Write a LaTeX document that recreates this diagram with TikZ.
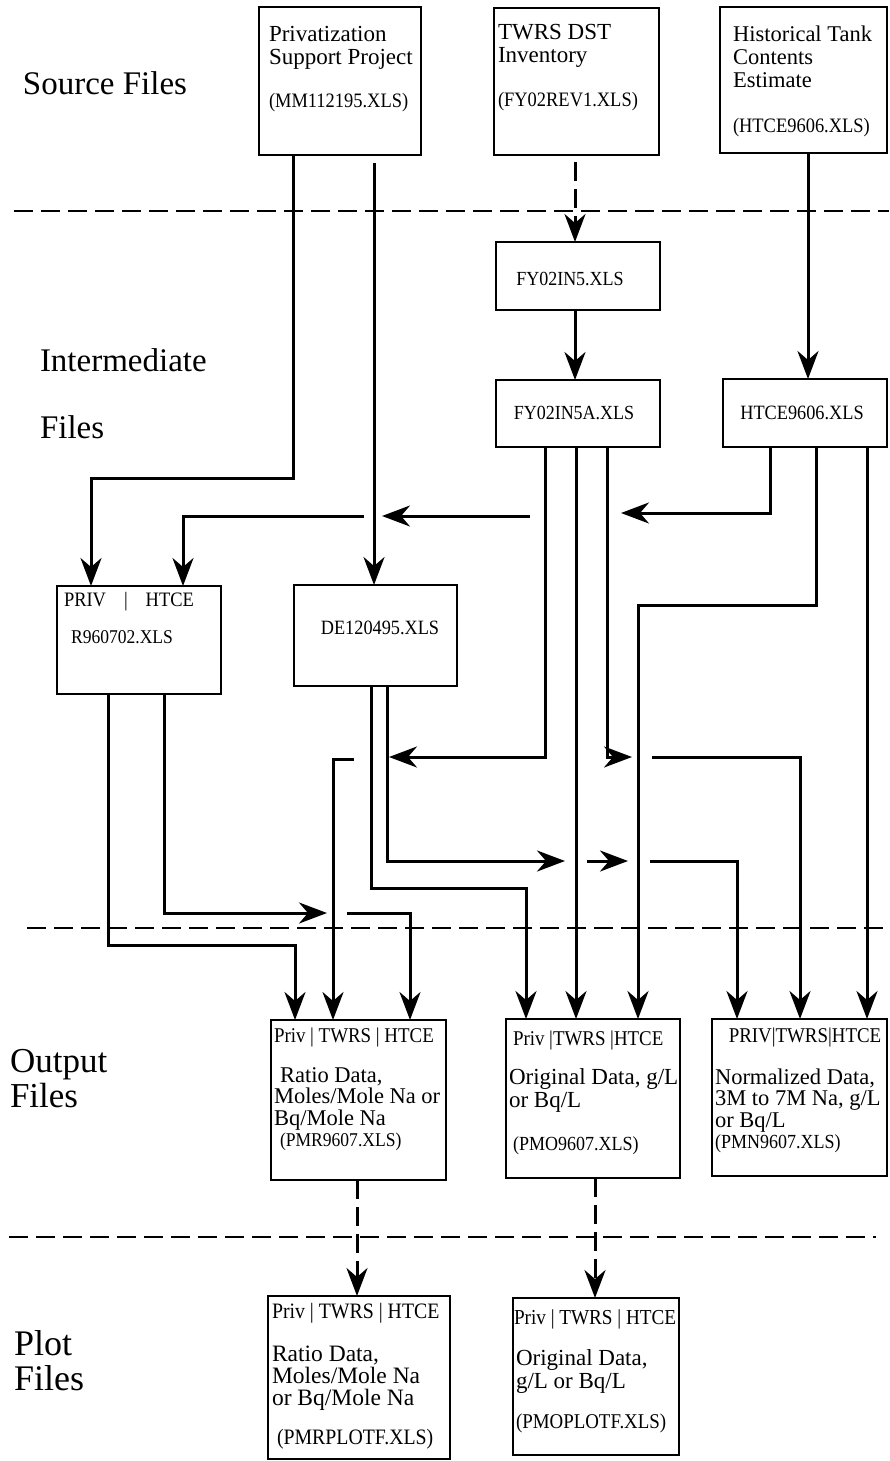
\documentclass[tikz,border=0pt]{standalone}
\usepackage{fontspec}
\setmainfont{Liberation Serif}
\newfontfamily\condfont[FakeStretch=0.9]{Liberation Serif}
\usetikzlibrary{arrows.meta}
\newcommand\FSz[1]{\fontsize{#1pt}{#1pt}\selectfont}
\newcommand\CSz[1]{\condfont\fontsize{#1pt}{#1pt}\selectfont}
\newcommand\TSz[2]{\fontsize{#1pt}{#2pt}\selectfont\lineskiplimit=-100pt\relax}
\newcommand\FirstLn{\rule{0pt}{20pt}}
\begin{document}
\begin{tikzpicture}[x=1pt,y=-1pt,
  box/.style={draw, line width=2pt, inner sep=0pt, outer sep=0pt, anchor=north west},
  conn/.style={line width=3pt, -{Stealth[length=28pt,width=21pt,inset=9pt]}},
  dconn/.style={conn, dash pattern=on 19pt off 8pt},
  sepline/.style={line width=2.4pt, dash pattern=on 19pt off 8pt},
  tl/.style={anchor=base west, inner sep=0pt, outer sep=0pt},
  tc/.style={anchor=center, inner sep=0pt, outer sep=0pt},
  blk/.style={anchor=north west, align=left, inner sep=0pt, outer sep=0pt},
]
\useasboundingbox (0,0) rectangle (889,1461);

% ---------- separators ----------
\draw[sepline] (14,211) -- (889,211);
\draw[sepline] (27,928) -- (889,928);
\draw[sepline] (9,1237) -- (876,1237);

% ---------- section labels ----------
\node[tl, font=\FSz{33}] (lblsrc) at (23,95) {Source Files};
\node[tl, font=\FSz{33}] (lblint) at (40,371) {Intermediate};
\node[tl, font=\FSz{33}] (lblintf) at (40,438) {Files};
\node[tl, font=\FSz{35}] (lblout) at (10,1072) {Output};
\node[tl, font=\FSz{35}] (lbloutf) at (10,1107) {Files};
\node[tl, font=\FSz{36}] (lblplot) at (14,1355) {Plot};
\node[tl, font=\FSz{36}] (lblplotf) at (14,1390) {Files};

% ---------- boxes ----------
\node[box, minimum width=162pt, minimum height=148pt] (src1) at (259,7) {};
\node[box, minimum width=165pt, minimum height=147pt] (src2) at (494,8) {};
\node[box, minimum width=167pt, minimum height=146pt] (src3) at (720,7) {};
\node[box, minimum width=164pt, minimum height=68pt] (fy5) at (496,242) {};
\node[box, minimum width=164pt, minimum height=67pt] (fy5a) at (496,380) {};
\node[box, minimum width=164pt, minimum height=68pt] (htce) at (723,379) {};
\node[box, minimum width=164pt, minimum height=108pt] (r96) at (57,586) {};
\node[box, minimum width=163pt, minimum height=101pt] (de12) at (294,585) {};
\node[box, minimum width=175pt, minimum height=160pt] (pmr) at (271,1020) {};
\node[box, minimum width=174pt, minimum height=159pt] (pmo) at (506,1019) {};
\node[box, minimum width=175pt, minimum height=157pt] (pmn) at (712,1019) {};
\node[box, minimum width=182pt, minimum height=163pt] (pmrp) at (268,1296) {};
\node[box, minimum width=166pt, minimum height=157pt] (pmop) at (513,1298) {};

% ---------- box texts ----------
\node[blk, font=\TSz{23}{23}] (src1t) at (269,22)
  {\FirstLn Privatization\\Support Project\\[20pt]{\CSz{20.5}(MM112195.XLS)}};
\node[blk, font=\TSz{23}{23}] (src2t) at (498,20)
  {\FirstLn TWRS DST\\Inventory\\[21pt]{\CSz{20.5}(FY02REV1.XLS)}};
\node[blk, font=\TSz{22.5}{22.5}] (src3t) at (733,22)
  {\FirstLn Historical Tank\\Contents\\Estimate\\[22.5pt]{\CSz{20.5}(HTCE9606.XLS)}};

\node[tc, font=\CSz{20}] (fy5t) at (570,279) {FY02IN5.XLS};
\node[tc, font=\CSz{20}] (fy5at) at (574,413) {FY02IN5A.XLS};
\node[tc, font=\CSz{20.3}] (htcet) at (802,413) {HTCE9606.XLS};
\node[tc, font=\CSz{20.3}] (de12t) at (380,628) {DE120495.XLS};
\node[tc, font=\CSz{19.5}] (r96t) at (122,637) {R960702.XLS};
\node[tl, font=\CSz{20.5}] (r96h) at (64,606) {PRIV\hspace{18pt}|\hspace{18pt}HTCE};

\node[tl, font=\CSz{21}] (pmrh) at (274,1042) {Priv | TWRS | HTCE};
\node[blk, font=\TSz{22.5}{21.5}] (pmrt) at (274,1062)
  {\FirstLn\hspace*{6pt}Ratio Data,\\Moles/Mole Na or\\Bq/Mole Na\\{\CSz{19.5}\hspace*{6pt}(PMR9607.XLS)}};

\node[tl, font=\CSz{21}] (pmoh) at (513,1045) {Priv |TWRS |HTCE};
\node[blk, font=\TSz{23}{23}] (pmot) at (509,1064)
  {\FirstLn Original Data, g/L\\or Bq/L\\[20pt]{\CSz{20}\hspace*{4pt}(PMO9607.XLS)}};

\node[anchor=base, inner sep=0pt, font=\CSz{21}] (pmnh) at (805,1042) {PRIV|TWRS|HTCE};
\node[blk, font=\TSz{22.5}{21.5}] (pmnt) at (715,1064)
  {\FirstLn Normalized Data,\\3M to 7M Na, g/L\\or Bq/L\\{\CSz{20}(PMN9607.XLS)}};

\node[tl, font=\CSz{22}] (pmrph) at (272,1318) {Priv | TWRS | HTCE};
\node[blk, font=\TSz{23.5}{22}] (pmrpt) at (272,1341)
  {\FirstLn Ratio Data,\\Moles/Mole Na\\or Bq/Mole Na\\[17pt]{\CSz{22}\hspace*{5pt}(PMRPLOTF.XLS)}};

\node[tl, font=\CSz{21.3}] (pmoph) at (514,1324) {Priv | TWRS | HTCE};
\node[blk, font=\TSz{23}{23}] (pmopt) at (516,1345)
  {\FirstLn Original Data,\\g/L or Bq/L\\[17pt]{\CSz{21}(PMOPLOTF.XLS)}};

% ---------- gap coordinates ----------
\coordinate (g6a) at (621,513);
\coordinate (g6b) at (530,516);
\coordinate (g6c) at (382,516);
\coordinate (g6d) at (364,516);
\coordinate (g7a) at (389,757);
\coordinate (g7b) at (354,759);
\coordinate (g9a) at (632,757);
\coordinate (g9b) at (652,757);
\coordinate (g13a) at (327,913);
\coordinate (g13b) at (347,913);
\coordinate (g15a) at (565,861);
\coordinate (g15b) at (587,861);
\coordinate (g15c) at (628,861);
\coordinate (g15d) at (650,861);

% ---------- connectors ----------
% Privatization -> R960702
\draw[conn] ([xshift=34pt]src1.south west) |- (91,478) -- ([xshift=34pt]r96.north west);
% Privatization -> DE120495
\draw[conn, shorten <=8pt] ([xshift=115pt]src1.south west) -- ([xshift=80pt]de12.north west);
% TWRS -> FY02IN5 (dashed)
\draw[dconn, shorten <=7pt] ([xshift=81pt]src2.south west) -- ([xshift=79pt]fy5.north west);
% FY02IN5 -> FY02IN5A
\draw[conn] ([xshift=79pt]fy5.south west) -- ([xshift=79pt]fy5a.north west);
% Historical -> HTCE9606
\draw[conn] ([xshift=88pt]src3.south west) -- ([xshift=85pt]htce.north west);
% HTCE9606 -> R960702 (with crossing gaps)
\draw[conn] ([xshift=47pt]htce.south west) |- (g6a);
\draw[conn] (g6b) -- (g6c);
\draw[conn] (g6d) -| ([xshift=126pt]r96.north west);
% FY02IN5A -> PMR (TWRS)
\draw[conn] ([xshift=49pt]fy5a.south west) |- (g7a);
\draw[conn] (g7b) -| ([xshift=62pt]pmr.north west);
% FY02IN5A -> PMO (TWRS)
\draw[conn] ([xshift=80pt]fy5a.south west) -- ([xshift=70pt]pmo.north west);
% FY02IN5A -> PMN (TWRS)
\draw[conn] ([xshift=111pt]fy5a.south west) |- (g9a);
\draw[conn] (g9b) -| ([xshift=88pt]pmn.north west);
% HTCE9606 -> PMO (HTCE)
\draw[conn] ([xshift=93pt]htce.south west) -- ++(0,158) -| ([xshift=132pt]pmo.north west);
% HTCE9606 -> PMN (HTCE)
\draw[conn] ([xshift=144pt]htce.south west) -- ([xshift=155pt]pmn.north west);
% R960702 -> PMR (Priv)
\draw[conn] ([xshift=51pt]r96.south west) -- ++(0,251) -| ([xshift=24pt]pmr.north west);
% R960702 -> PMR (HTCE)
\draw[conn] ([xshift=107pt]r96.south west) |- (g13a);
\draw[conn] (g13b) -| ([xshift=139pt]pmr.north west);
% DE120495 -> PMO (Priv)
\draw[conn] ([xshift=77pt]de12.south west) -- ++(0,202) -| ([xshift=20pt]pmo.north west);
% DE120495 -> PMN (Priv)
\draw[conn] ([xshift=93pt]de12.south west) |- (g15a);
\draw[conn] (g15b) -- (g15c);
\draw[conn] (g15d) -| ([xshift=25pt]pmn.north west);
% Output -> Plot (dashed)
\draw[dconn] ([xshift=86pt]pmr.south west) -- ([xshift=89pt]pmrp.north west);
\draw[dconn] ([xshift=89pt]pmo.south west) -- ([xshift=82pt]pmop.north west);
\end{tikzpicture}
\end{document}
